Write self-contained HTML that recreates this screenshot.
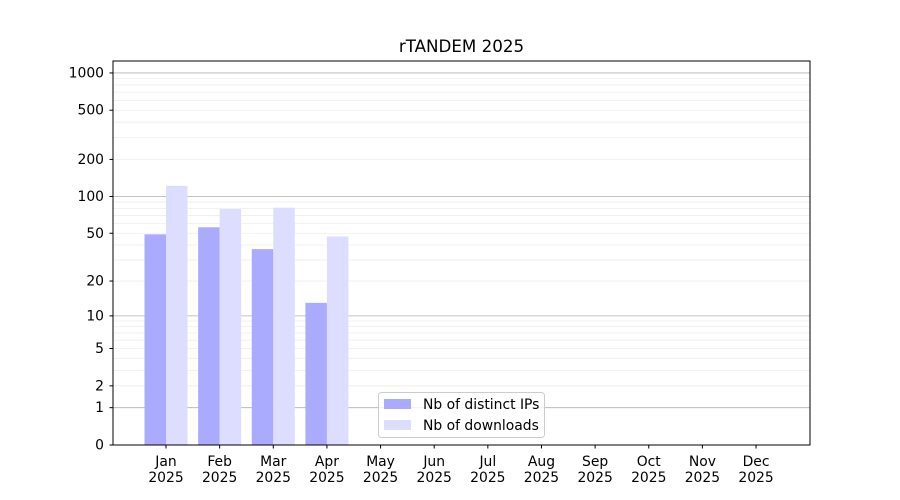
<!DOCTYPE html>
<html><head><meta charset="utf-8"><style>
body{margin:0;background:#fff}
svg{display:block;font-family:"DejaVu Sans","Liberation Sans",sans-serif}
</style></head><body>
<svg id="s" width="900" height="500" xmlns="http://www.w3.org/2000/svg">
<rect width="900" height="500" fill="#fff"/>
<g id="grid"></g>
<g id="bars"></g>
<rect x="113" y="61" width="697" height="384" fill="none" stroke="#000" stroke-width="1"/>
<g id="ticks" font-size="13.9" fill="#000"></g>
<text x="461.5" y="52" font-size="16.7" text-anchor="middle">rTANDEM 2025</text>
<g>
<rect x="378.5" y="392.5" width="166" height="45" rx="3" fill="#fff" fill-opacity="0.8" stroke="#ccc"/>
<rect x="384" y="399" width="27" height="10" fill="#aaaaff"/>
<text x="423" y="409" font-size="13.9">Nb of distinct IPs</text>
<rect x="384" y="420" width="27" height="10" fill="#ddddff"/>
<text x="423" y="430" font-size="13.9">Nb of downloads</text>
</g>
</svg>
<script>
var NS="http://www.w3.org/2000/svg";
function Y(v){return 445-124*Math.log10(1+v);}
function el(p,t,a,txt){var e=document.createElementNS(NS,t);for(var k in a)e.setAttribute(k,a[k]);if(txt!==undefined)e.textContent=txt;document.getElementById(p).appendChild(e);return e;}
[1,10,100].forEach(function(d){for(var k=2;k<=9;k++){var y=Y(k*d);el("grid","line",{x1:113,x2:810,y1:y,y2:y,stroke:"#eeeeee","stroke-width":0.8});}});
[1,10,100,1000].forEach(function(v){var y=Y(v);el("grid","line",{x1:113,x2:810,y1:y,y2:y,stroke:"#b0b0b0","stroke-width":0.8});});
[0,1,2,5,10,20,50,100,200,500,1000].forEach(function(v){var y=Y(v);
el("ticks","line",{x1:109.5,x2:113,y1:y,y2:y,stroke:"#000"});
el("ticks","text",{x:104,y:y+4.5,"text-anchor":"end"},String(v));});
var m=["Jan","Feb","Mar","Apr","May","Jun","Jul","Aug","Sep","Oct","Nov","Dec"];
m.forEach(function(n,i){var x=166+i*53.64;
el("ticks","line",{x1:x,x2:x,y1:445,y2:448.5,stroke:"#000"});
el("ticks","text",{x:x,y:466,"text-anchor":"middle"},n);
el("ticks","text",{x:x,y:482,"text-anchor":"middle"},"2025");});
var ips=[49,56,37,13],dl=[122,79,81,47];
ips.forEach(function(v,i){var c=166+i*53.64;var y=Y(v);
el("bars","rect",{x:c-21.5,y:y,width:21.5,height:445-y,fill:"#aaaaff"});
var y2=Y(dl[i]);el("bars","rect",{x:c,y:y2,width:21.5,height:445-y2,fill:"#ddddff"});});
</script>
</body></html>
